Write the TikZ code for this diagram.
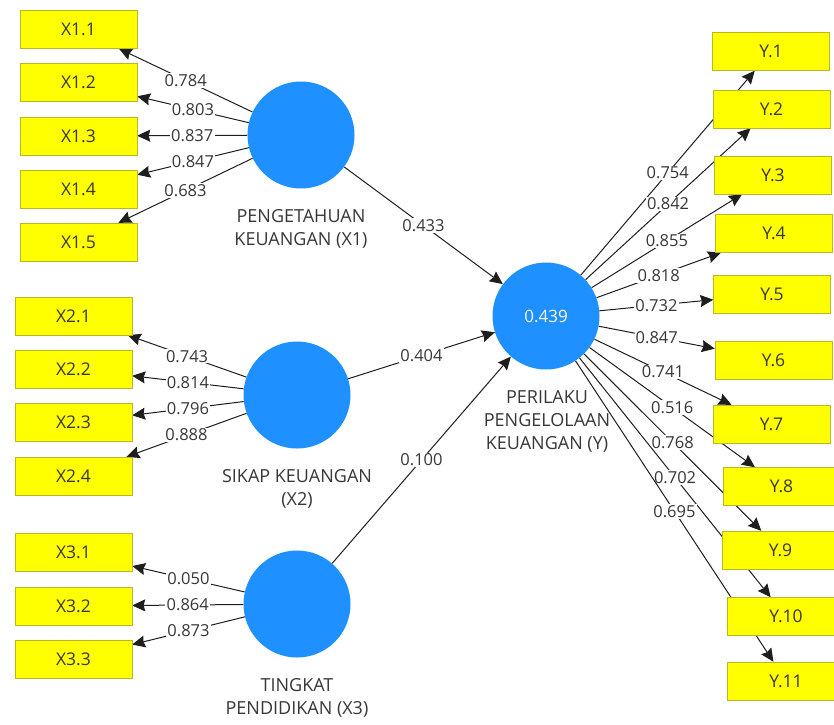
\documentclass[tikz,border=0pt]{standalone}
\usepackage{fontspec}
\setmainfont{Open Sans}
\usetikzlibrary{arrows.meta}
\pgfdeclarelayer{bg}
\pgfsetlayers{bg,main}
\definecolor{plsblue}{RGB}{30,144,255}
\definecolor{plsyellow}{RGB}{255,255,0}
\definecolor{boxborder}{RGB}{185,185,40}
\definecolor{txt}{RGB}{55,55,55}
\definecolor{linec}{RGB}{30,30,30}
\tikzset{
  indbox/.style={rectangle, draw=boxborder, fill=plsyellow, minimum width=117pt, minimum height=38pt, inner sep=0pt, font=\fontsize{17.5}{20}\selectfont, text=txt},
  latent/.style={circle, fill=plsblue, minimum size=107pt, inner sep=0pt, font=\fontsize{17}{20}\selectfont, text=white},
  lvlabel/.style={align=center, font=\fontsize{18}{23}\selectfont, text=txt, inner sep=0pt},
  conn/.style={draw=linec, line width=1pt, -{Stealth[length=13pt,width=12pt,inset=1.5pt]}},
  wlabel/.style={fill=white, inner sep=1.2pt, font=\fontsize{16.5}{19}\selectfont, text=txt, midway}
}
\begin{document}
\begin{tikzpicture}[x=1pt,y=-1pt]
\useasboundingbox (0,0) rectangle (834,724);
% latent variables
\node[latent] (X1) at (301,135) {};
\node[latent] (X2) at (297,395) {};
\node[latent] (X3) at (297,604) {};
\node[latent] (Y) at (546,316) {0.439};
\node[lvlabel] (lX1) at (301,229) {PENGETAHUAN\\KEUANGAN (X1)};
\node[lvlabel] (lX2) at (297,489) {SIKAP KEUANGAN\\(X2)};
\node[lvlabel] (lX3) at (297,698) {TINGKAT\\PENDIDIKAN (X3)};
\node[lvlabel] (lY) at (547,421) {PERILAKU\\PENGELOLAAN\\KEUANGAN (Y)};
% indicators X1
\node[indbox] (X11) at (78.5,29.5) {X1.1};
\node[indbox] (X12) at (78.5,82.5) {X1.2};
\node[indbox] (X13) at (78.5,136) {X1.3};
\node[indbox] (X14) at (78.5,189) {X1.4};
\node[indbox] (X15) at (78.5,242) {X1.5};
% indicators X2
\node[indbox] (X21) at (73.5,316) {X2.1};
\node[indbox] (X22) at (73.5,369) {X2.2};
\node[indbox] (X23) at (73.5,422.5) {X2.3};
\node[indbox] (X24) at (73.5,476) {X2.4};
% indicators X3
\node[indbox] (X31) at (73.5,552.5) {X3.1};
\node[indbox] (X32) at (73.5,606) {X3.2};
\node[indbox] (X33) at (73.5,659) {X3.3};
% indicators Y
\node[indbox] (Y1) at (771,51.5) {Y.1};
\node[indbox] (Y2) at (771.5,109) {Y.2};
\node[indbox] (Y3) at (773,175) {Y.3};
\node[indbox] (Y4) at (774,233.5) {Y.4};
\node[indbox] (Y5) at (772,294) {Y.5};
\node[indbox] (Y6) at (773.5,360) {Y.6};
\node[indbox] (Y7) at (771.5,424) {Y.7};
\node[indbox] (Y8) at (781.5,486.5) {Y.8};
\node[indbox] (Y9) at (780.5,550) {Y.9};
\node[indbox] (Y10) at (786,616.5) {Y.10};
\node[indbox] (Y11) at (786,681) {Y.11};
\begin{pgfonlayer}{bg}
\draw[conn] (X1) -- node[wlabel]{0.784} (X11);
\draw[conn] (X1) -- node[wlabel]{0.803} (X12);
\draw[conn] (X1) -- node[wlabel]{0.837} (X13);
\draw[conn] (X1) -- node[wlabel]{0.847} (X14);
\draw[conn] (X1) -- node[wlabel]{0.683} (X15);
\draw[conn] (X2) -- node[wlabel]{0.743} (X21);
\draw[conn] (X2) -- node[wlabel]{0.814} (X22);
\draw[conn] (X2) -- node[wlabel]{0.796} (X23);
\draw[conn] (X2) -- node[wlabel]{0.888} (X24);
\draw[conn] (X3) -- node[wlabel]{0.050} (X31);
\draw[conn] (X3) -- node[wlabel]{0.864} (X32);
\draw[conn] (X3) -- node[wlabel]{0.873} (X33);
\draw[conn] (X1) -- node[wlabel]{0.433} (Y);
\draw[conn] (X2) -- node[wlabel]{0.404} (Y);
\draw[conn] (X3) -- node[wlabel]{0.100} (Y);
\draw[conn] (Y) -- node[wlabel]{0.754} (Y1);
\draw[conn] (Y) -- node[wlabel]{0.842} (Y2);
\draw[conn] (Y) -- node[wlabel]{0.855} (Y3);
\draw[conn] (Y) -- node[wlabel]{0.818} (Y4);
\draw[conn] (Y) -- node[wlabel]{0.732} (Y5);
\draw[conn] (Y) -- node[wlabel]{0.847} (Y6);
\draw[conn] (Y) -- node[wlabel]{0.741} (Y7);
\draw[conn] (Y) -- node[wlabel]{0.516} (Y8);
\draw[conn] (Y) -- node[wlabel]{0.768} (Y9);
\draw[conn] (Y) -- node[wlabel]{0.702} (Y10);
\draw[conn] (Y) -- node[wlabel]{0.695} (Y11);
\end{pgfonlayer}
\end{tikzpicture}
\end{document}
